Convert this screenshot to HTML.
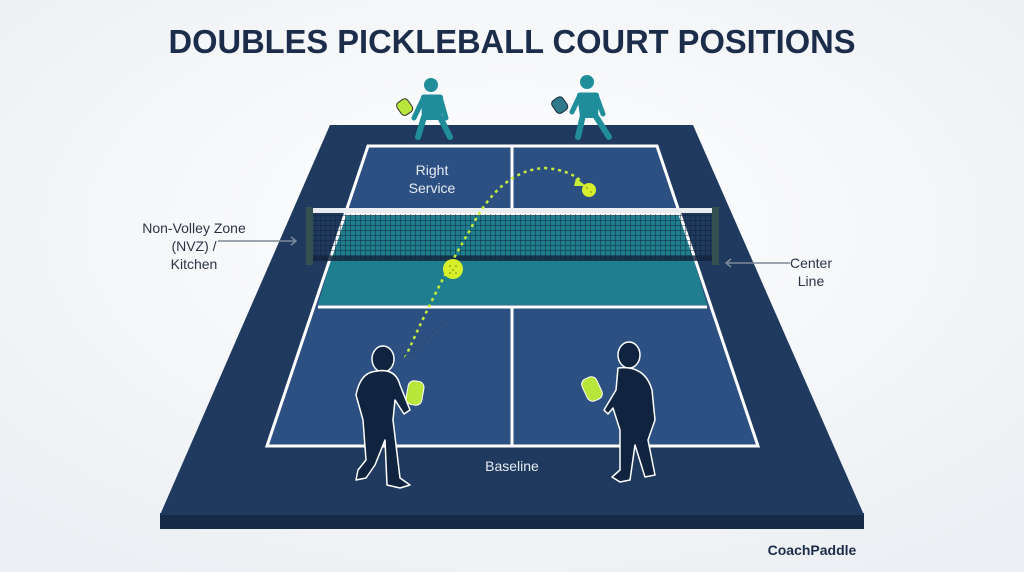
<!DOCTYPE html>
<html><head><meta charset="utf-8"><style>
html,body{margin:0;padding:0;}
body{width:1024px;height:572px;overflow:hidden;background:#f4f6f8;}
svg{display:block;font-family:"Liberation Sans",sans-serif;}
</style></head><body>
<svg width="1024" height="572" viewBox="0 0 1024 572">
<defs>
<radialGradient id="bg" cx="50%" cy="40%" r="70%"><stop offset="0" stop-color="#ffffff"/><stop offset="1" stop-color="#eceff3"/></radialGradient>
<pattern id="mesh" width="5" height="5" patternUnits="userSpaceOnUse"><path d="M0 0H5M0 0V5" stroke="#0e1e33" stroke-width="1.2" fill="none"/></pattern>
</defs>
<rect width="1024" height="572" fill="url(#bg)"/>
<text x="512" y="53" text-anchor="middle" font-size="33" font-weight="bold" fill="#1b2d4a" textLength="687" lengthAdjust="spacingAndGlyphs">DOUBLES PICKLEBALL COURT POSITIONS</text>

<rect x="160" y="513" width="704" height="16" fill="#162a46"/>
<polygon points="330,125 693,125 864,515 160,515" fill="#1f3a5e"/>
<polygon points="368,146 657,146 758,446 267,446" fill="#2d5082"/>
<polygon points="344,215 681,215 707,305 318,305" fill="#1f7f8e"/>
<g stroke="#ffffff" stroke-width="3" fill="none">
<polygon points="368,146 657,146 758,446 267,446"/>
<line x1="344" y1="214" x2="681" y2="214"/>
<line x1="318" y1="307" x2="707" y2="307"/>
<line x1="512" y1="146" x2="512" y2="214"/>
<line x1="512" y1="307" x2="512" y2="446"/>
</g>
<rect x="312" y="214" width="400" height="46" fill="url(#mesh)" opacity="0.75"/>
<rect x="312" y="256" width="400" height="5" fill="#13233b" opacity="0.8"/>
<rect x="310" y="208" width="406" height="5" fill="#e9edf0"/>
<rect x="306" y="207" width="7" height="58" fill="#34514f"/>
<rect x="712" y="207" width="7" height="58" fill="#34514f"/>

<path d="M405,358 Q440,280 470,230 Q500,170 545,168 Q570,170 582,182" stroke="#c8ee3a" stroke-width="2.5" stroke-dasharray="3,4" fill="none"/>
<path d="M405,358 L448,318" stroke="#2a4a72" stroke-width="2" stroke-dasharray="3,3"/>
<polygon points="576,178 586,186 574,186" fill="#c8ee3a"/>
<circle cx="589" cy="190" r="7" fill="#d7ee2a"/>
<circle cx="453" cy="269" r="10" fill="#d7ee2a"/>
<g fill="#9aab1a"><circle cx="450" cy="266" r="1"/><circle cx="456" cy="266" r="1"/><circle cx="453" cy="270" r="1"/><circle cx="450" cy="273" r="1"/><circle cx="456" cy="273" r="1"/><circle cx="587" cy="188" r="1"/><circle cx="591" cy="192" r="1"/></g>

<g fill="#1f8e9a" stroke="#1f8e9a" stroke-linecap="round" stroke-linejoin="round">
<circle cx="431" cy="85" r="7" stroke="none"/>
<path d="M424,97 L440,97 L446,118" stroke-width="5" fill="none"/>
<path d="M424,97 L414,118" stroke-width="5" fill="none"/>
<path d="M423,97 L441,97 L440,118 L424,118 Z" stroke-width="4"/>
<path d="M424,117 L418,137 M440,117 L450,137" stroke-width="6" fill="none"/>
<circle cx="587" cy="82" r="7" stroke="none"/>
<path d="M580,95 L596,95 L603,114" stroke-width="5" fill="none"/>
<path d="M580,95 L572,112" stroke-width="5" fill="none"/>
<path d="M579,95 L597,95 L596,116 L582,116 Z" stroke-width="4"/>
<path d="M583,115 L578,137 M595,115 L609,137" stroke-width="6" fill="none"/>
</g>
<rect x="398" y="100" width="13" height="15" rx="4" fill="#b8e63a" stroke="#333" transform="rotate(-35 404 107)"/>
<rect x="553" y="98" width="13" height="15" rx="4" fill="#2f7a8a" stroke="#1a2a3a" transform="rotate(-35 559 105)"/>

<g fill="#10243f" stroke="#ffffff" stroke-width="1.5" stroke-linejoin="round">
<ellipse cx="383" cy="359" rx="11" ry="13"/>
<path d="M372,372 Q395,366 400,385 L410,410 L404,414 L395,400 L393,420 L400,478 L410,485 L400,488 L387,485 L385,440 L375,465 L366,478 L356,480 L358,470 L366,460 L363,420 L356,395 Q360,375 372,372Z"/>
<ellipse cx="629" cy="355" rx="11" ry="13"/>
<path d="M618,368 Q645,365 652,390 L655,420 L648,440 L655,475 L645,477 L635,445 L630,480 L620,482 L612,477 L620,470 L620,430 L613,408 L608,414 L604,410 L616,390 Z"/>
</g>
<rect x="407" y="381" width="16" height="24" rx="6" fill="#b8e63a" stroke="#fff" transform="rotate(10 415 393)"/>
<rect x="584" y="377" width="16" height="24" rx="6" fill="#b8e63a" stroke="#fff" transform="rotate(-25 592 389)"/>

<g font-size="14" fill="#2b3445" text-anchor="middle">
<text x="432" y="175" fill="#e6ecf3">Right</text>
<text x="432" y="193" fill="#e6ecf3">Service</text>
<text x="512" y="471" fill="#e6ecf3">Baseline</text>
<text x="194" y="233">Non-Volley Zone</text>
<text x="194" y="251">(NVZ) /</text>
<text x="194" y="269">Kitchen</text>
<text x="811" y="268">Center</text>
<text x="811" y="286">Line</text>
</g>
<g stroke="#7e8a98" stroke-width="1.5" fill="none">
<path d="M218,241 H296 M291,237 L296,241 L291,245"/>
<path d="M790,263 H726 M731,259 L726,263 L731,267"/>
</g>
<text x="812" y="555" text-anchor="middle" font-size="14" font-weight="bold" fill="#1b2d4a">CoachPaddle</text>
</svg>
</body></html>
